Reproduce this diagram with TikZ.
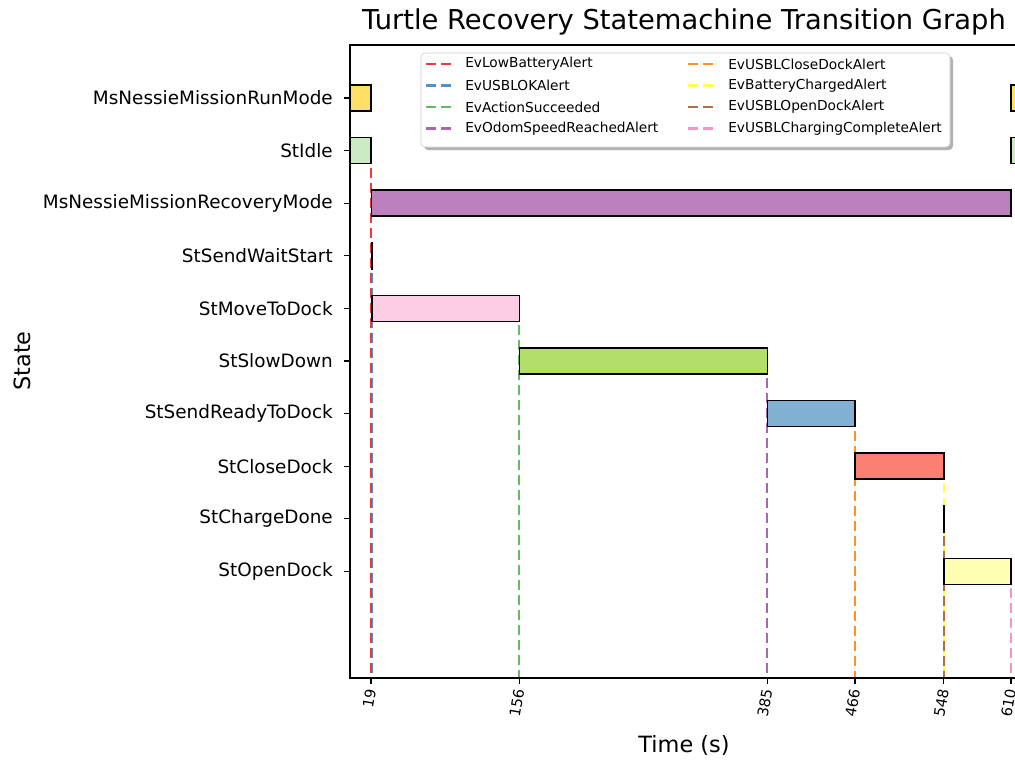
\documentclass[tikz,border=0pt]{standalone}
\usepackage{fontspec}
\setmainfont{DejaVu Sans}
\definecolor{cRun}{HTML}{FFE066}
\definecolor{cIdle}{HTML}{CCEBC5}
\definecolor{cRec}{HTML}{BC80BD}
\definecolor{cWait}{HTML}{8DD3C7}
\definecolor{cMove}{HTML}{FCCDE5}
\definecolor{cSlow}{HTML}{B3DE69}
\definecolor{cReady}{HTML}{80B1D3}
\definecolor{cClose}{HTML}{FB8072}
\definecolor{cCharge}{HTML}{D9D9D9}
\definecolor{cOpen}{HTML}{FFFFB3}
\definecolor{eRed}{HTML}{E41A1C}
\definecolor{eBlue}{HTML}{377EB8}
\definecolor{eGreen}{HTML}{4DAF4A}
\definecolor{ePurple}{HTML}{984EA3}
\definecolor{eOrange}{HTML}{FF7F00}
\definecolor{eYellow}{HTML}{FFFF33}
\definecolor{eBrown}{HTML}{A65628}
\definecolor{ePink}{HTML}{F781BF}
\tikzset{
  >=latex,
}
\tikzstyle{spine}=[line width=0.9pt]
\tikzstyle{bar}=[draw=black,line width=1.1pt]
\tikzstyle{event}=[line width=1.6pt,dash pattern=on 7.5pt off 3.75pt,opacity=.85]
\tikzstyle{statelab}=[anchor=east,inner sep=0pt,font=\fontsize{13.8}{15}\selectfont]
\tikzstyle{timelab}=[anchor=east,inner sep=0pt,rotate=80,font=\fontsize{11}{12}\selectfont]
\tikzstyle{leglab}=[anchor=west,inner sep=0pt,font=\fontsize{10.3}{11}\selectfont]

\begin{document}
\begin{tikzpicture}[x=0.75pt,y=-0.75pt]
        \useasboundingbox (0,0) rectangle (1015,760);
        \clip (0,0) rectangle (1015,760);
        \node (title) at (684,22) {\fontsize{20.5}{22}\selectfont Turtle Recovery Statemachine Transition Graph};
        \node[rotate=90] (ylab) at (22,361) {\fontsize{16.8}{18}\selectfont State};
        \node (xlab) at (684,745) {\fontsize{16.8}{18}\selectfont Time (s)};
        % state rows
        \foreach \s [count=\i from 0] in {MsNessieMissionRunMode,StIdle,MsNessieMissionRecoveryMode,
            StSendWaitStart,StMoveToDock,StSlowDown,StSendReadyToDock,StCloseDock,StChargeDone,StOpenDock}{
          \draw[spine] (344,{98+52.6*\i}) -- (350,{98+52.6*\i});
          \node[statelab] (s\i) at (333,{98+52.6*\i}) {\s};
        }
        \begin{scope}[shift={(350.4,0)},x=0.8122pt]
          % transitions
          \foreach \t/\r/\c in {19/1/eRed,19.9/3/eBlue,156/4/eGreen,385/5/ePurple,
              466/6/eOrange,548/7/eYellow,548/8/eBrown,610/9/ePink}
            \draw[event,\c] (\t,{98+52.6*\r-13}) -- (\t,678);
          % time spent in each state
          \foreach \a/\b/\r/\c in {0/19/0/cRun,610/640/0/cRun,0/19/1/cIdle,610/640/1/cIdle,
              19.3/610/2/cRec,19.3/20.1/3/cWait,20.1/156/4/cMove,156/385/5/cSlow,
              385/466/6/cReady,466/548/7/cClose,547.6/548.3/8/cCharge,548.3/610/9/cOpen}
            \draw[bar,fill=\c] (\a,{98+52.6*\r-13}) rectangle (\b,{98+52.6*\r+13});
          \foreach \t in {19,156,385,466,548,610}{
            \draw[spine] (\t,678) -- (\t,684);
            \node[timelab] (t\t) at (\t,689) {\t};
          }
        \end{scope}
        \draw[spine] (1018,45) -- (350,45) -- (350,678) -- (1018,678);
        % legend
        \fill[black,opacity=.3,rounded corners=3pt] (424,56) rectangle (953,150);
        \draw[gray!40,fill=white,rounded corners=3pt] (421,53) rectangle (950,147);
        \foreach \c/\e [count=\i from 0] in {eRed/EvLowBatteryAlert,eBlue/EvUSBLOKAlert,
            eGreen/EvActionSucceeded,ePurple/EvOdomSpeedReachedAlert}{
          \draw[event,\c] (426,{64+21.5*\i}) -- (452,{64+21.5*\i});
          \node[leglab] (la\i) at (465,{64+21.5*\i}) {\e};
        }
        \foreach \c/\e [count=\i from 0] in {eOrange/EvUSBLCloseDockAlert,eYellow/EvBatteryChargedAlert,
            eBrown/EvUSBLOpenDockAlert,ePink/EvUSBLChargingCompleteAlert}{
          \draw[event,\c] (688,{64+21.5*\i}) -- (714,{64+21.5*\i});
          \node[leglab] (lb\i) at (728,{64+21.5*\i}) {\e};
        }
      \end{tikzpicture}
\end{document}
